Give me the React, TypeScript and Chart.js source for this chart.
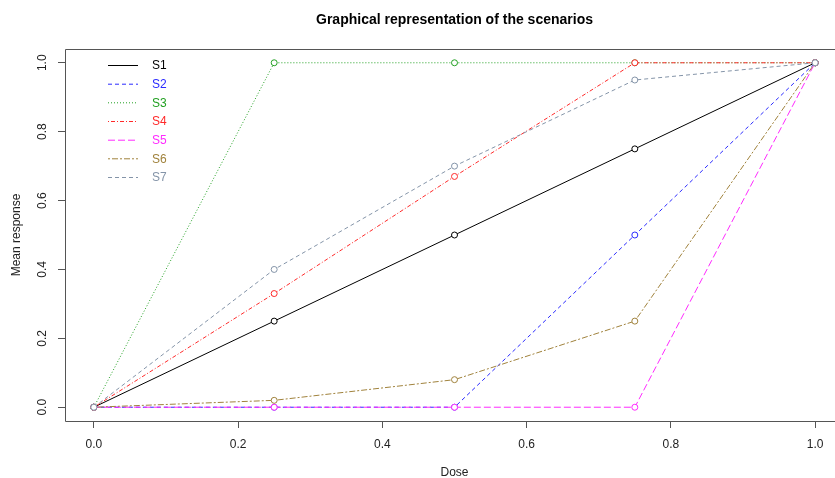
import React, { useEffect, useRef } from "react";
import { Chart, registerables } from "chart.js";

Chart.register(...registerables);

const doses = [0, 0.25, 0.5, 0.75, 1];
const seriesNames = ["S1", "S2", "S3", "S4", "S5", "S6", "S7"];
const s1 = [0, 0.25, 0.5, 0.75, 1];
const s2 = [0, 0, 0, 0.5, 1];
const s3 = [0, 1, 1, 1, 1];
const s4 = [0, 0.33, 0.67, 1, 1];
const s5 = [0, 0, 0, 0, 1];
const s6 = [0, 0.02, 0.08, 0.25, 1];
const s7 = [0, 0.4, 0.7, 0.95, 1];
const seriesValues = [s1, s2, s3, s4, s5, s6, s7];
const tickValues = [0, 0.2, 0.4, 0.6, 0.8, 1.0];

const colors = ["#000000", "#2a2aff", "#22a022", "#ff2a2a", "#ff2aff", "#a0823c", "#8494a8"];
const dashes: number[][] = [[], [4, 3], [1, 2], [1, 2, 4, 2], [7, 3], [2, 2, 6, 2], [4, 3]];

const FONT = "'Liberation Sans', Arial, sans-serif";

const decorPlugin = {
  id: "decor",
  afterDraw(chart: any) {
    const ctx = chart.ctx;
    const a = chart.chartArea;
    const y = chart.scales.y;
    ctx.save();
    // plot box (its right edge lies beyond the visible page, as in the reference)
    ctx.strokeStyle = "#555555";
    ctx.lineWidth = 1;
    ctx.setLineDash([]);
    const L = Math.round(a.left) + 0.5;
    const T = Math.round(a.top) + 0.5;
    const B = Math.round(a.bottom) + 0.5;
    const R = Math.round(a.right) + 0.5;
    ctx.beginPath();
    ctx.moveTo(R, T);
    ctx.lineTo(L, T);
    ctx.lineTo(L, B);
    ctx.lineTo(R, B);
    ctx.stroke();
    // title
    ctx.fillStyle = "#000";
    ctx.font = `bold 14px ${FONT}`;
    ctx.textAlign = "center";
    ctx.textBaseline = "middle";
    ctx.fillText("Graphical representation of the scenarios", (a.left + a.right) / 2, 20);
    // y tick labels, rotated as in R
    ctx.font = `12px ${FONT}`;
    ctx.fillStyle = "#222";
    for (const v of tickValues) {
      const py = y.getPixelForValue(v);
      ctx.save();
      ctx.translate(43, py);
      ctx.rotate(-Math.PI / 2);
      ctx.fillText(v.toFixed(1), 0, 0);
      ctx.restore();
    }
    // axis titles
    ctx.save();
    ctx.translate(17, (a.top + a.bottom) / 2);
    ctx.rotate(-Math.PI / 2);
    ctx.fillText("Mean response", 0, 0);
    ctx.restore();
    ctx.fillText("Dose", (a.left + a.right) / 2, 473);
    // legend
    const rowY = [65, 83.7, 102.3, 121, 139.7, 158.3, 177];
    seriesNames.forEach((name, i) => {
      const ly = rowY[i];
      ctx.beginPath();
      ctx.strokeStyle = colors[i];
      ctx.setLineDash(dashes[i]);
      ctx.moveTo(108, ly + 0.5);
      ctx.lineTo(138, ly + 0.5);
      ctx.stroke();
      ctx.setLineDash([]);
      ctx.fillStyle = colors[i];
      ctx.textAlign = "left";
      ctx.fillText(name, 152, ly + 1);
    });
    ctx.restore();
  },
};

export default function App() {
  const ref = useRef<HTMLCanvasElement | null>(null);
  useEffect(() => {
    document.body.style.margin = "0";
    document.body.style.overflow = "hidden";
    const canvas = ref.current!;
    const chart = new Chart(canvas, {
      type: "line",
      data: {
        datasets: seriesNames.map((name, i) => ({
          label: name,
          data: doses.map((d, j) => ({ x: d, y: seriesValues[i][j] })),
          borderColor: colors[i],
          borderWidth: 1,
          borderDash: dashes[i],
          pointRadius: 3,
          pointBorderWidth: 1,
          pointBorderColor: colors[i],
          pointBackgroundColor: "#ffffff",
          pointStyle: "circle",
          tension: 0,
          fill: false,
          clip: false,
          order: 7 - i,
        })),
      },
      options: {
        animation: false,
        responsive: false,
        events: [],
        layout: { autoPadding: false, padding: { left: 0, top: 49, right: 0, bottom: 0 } },
        plugins: { legend: { display: false }, title: { display: false }, tooltip: { enabled: false } },
        scales: {
          x: {
            type: "linear",
            min: -0.04,
            max: 1.04,
            afterBuildTicks: (axis: any) => {
              axis.ticks = tickValues.map((v) => ({ value: v }));
            },
            afterFit: (axis: any) => {
              axis.height = 57;
              axis.paddingLeft = 0;
              axis.paddingRight = 0;
            },
            grid: { display: true, drawOnChartArea: false, drawTicks: true, tickLength: 7, color: "#555555" },
            border: { display: false },
            ticks: {
              padding: 9,
              color: "#222",
              font: { family: FONT, size: 12 },
              maxRotation: 0,
              autoSkip: false,
              callback: (v: any) => Number(v).toFixed(1),
            },
          },
          y: {
            type: "linear",
            min: -0.04,
            max: 1.04,
            afterBuildTicks: (axis: any) => {
              axis.ticks = tickValues.map((v) => ({ value: v }));
            },
            afterFit: (axis: any) => {
              axis.width = 65;
              axis.paddingTop = 0;
              axis.paddingBottom = 0;
            },
            grid: { display: true, drawOnChartArea: false, drawTicks: true, tickLength: 7, color: "#555555" },
            border: { display: false },
            ticks: { color: "rgba(0,0,0,0)", font: { family: FONT, size: 12 }, autoSkip: false },
          },
        },
      },
      plugins: [decorPlugin],
    });
    return () => chart.destroy();
  }, []);
  return (
    <div style={{ width: 835, height: 478, background: "#fff", overflow: "hidden" }}>
      <canvas ref={ref} width={844} height={478} style={{ display: "block" }} />
    </div>
  );
}
